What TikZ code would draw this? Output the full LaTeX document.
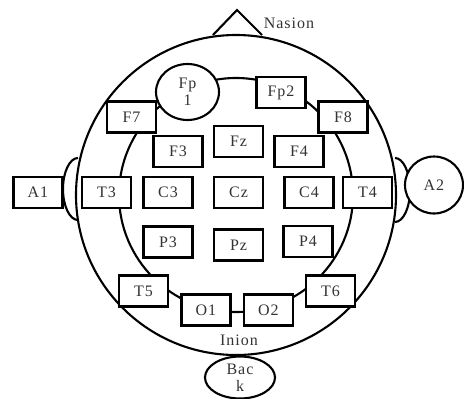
\documentclass[tikz,border=0pt]{standalone}
\usepackage{fontspec}
\setmainfont{Liberation Serif}[LetterSpace=6]
\usetikzlibrary{shapes.geometric}
\definecolor{txt}{HTML}{333333}
\tikzset{
  lw/.style={line width=2.1pt},
  ebox/.style={draw, lw, fill=white, minimum width=49pt, minimum height=31pt, inner sep=0pt, text=txt, font=\fontsize{16}{17}\selectfont},
  eoval/.style={draw, lw, fill=white, ellipse, inner sep=0pt, text=txt, align=center, font=\fontsize{16}{18}\selectfont},
  lbl/.style={text=txt, inner sep=0pt, font=\fontsize{16}{17}\selectfont}
}
\begin{document}
\begin{tikzpicture}[x=1pt,y=-1pt]
\useasboundingbox (0,0) rectangle (464,399);
% head
\draw[lw] (236,195) circle[radius=160pt];
\draw[lw] (236,195) circle[radius=117pt];
% nose
\draw[lw] (213,35) -- (237,10) -- (262,35);
% ears
\draw[lw] (78,158) arc[start angle=90, end angle=270, x radius=15pt, y radius=31pt];
\draw[lw] (395,158) arc[start angle=90, end angle=-90, x radius=15pt, y radius=32pt];
% labels
\node[lbl] (nasion) at (289,23) {Nasion};
\node[lbl] (inion) at (239,340) {Inion};
% electrodes
\node[eoval, minimum width=63pt, minimum height=56pt] (fp1) at (187.5,92) {Fp\\[-1pt]1};
\node[ebox] (fp2) at (281,92.5) {Fp2};
\node[ebox] (f7) at (131.5,117) {F7};
\node[ebox] (f8) at (343,117) {F8};
\node[ebox] (f3) at (178,151.5) {F3};
\node[ebox] (fz) at (238.5,141.5) {Fz};
\node[ebox] (f4) at (299,151.5) {F4};
\node[ebox] (a1) at (38,192.5) {A1};
\node[ebox] (t3) at (106.5,192.5) {T3};
\node[ebox] (c3) at (168,192.5) {C3};
\node[ebox] (cz) at (238.5,192.5) {Cz};
\node[ebox] (c4) at (309,192.5) {C4};
\node[ebox] (t4) at (367.5,192.5) {T4};
\node[eoval, minimum width=58pt, minimum height=57pt] (a2) at (434,185) {A2};
\node[ebox] (p3) at (168,242) {P3};
\node[ebox] (pz) at (238.5,245) {Pz};
\node[ebox] (p4) at (308,241.5) {P4};
\node[ebox] (t5) at (143.5,291) {T5};
\node[ebox] (o1) at (206,310) {O1};
\node[ebox] (o2) at (268.5,310) {O2};
\node[ebox] (t6) at (330.5,291) {T6};
\node[eoval, minimum width=70pt, minimum height=42pt] (back) at (240,377.5) {Bac\\[-1pt]k};
\end{tikzpicture}
\end{document}
